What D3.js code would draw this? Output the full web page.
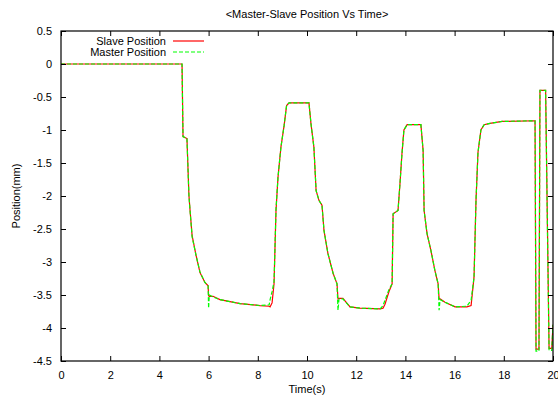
<!DOCTYPE html>
<html>
<head>
<meta charset="utf-8">
<script src="https://cdn.jsdelivr.net/npm/d3@7/dist/d3.min.js"></script>
<style>
  body { margin: 0; background: #fff; }
  text { font-family: "Liberation Sans", Arial, sans-serif; fill: #000; }
</style>
</head>
<body>
<div id="chart"></div>
<script>
// time (s)
const times = [0, 4.92, 4.96, 5.12, 5.20, 5.24, 5.33, 5.49, 5.65, 5.85, 5.98, 6.00, 6.03, 6.18, 6.46, 7.28,
  8.09, 8.46, 8.50, 8.58, 8.66, 8.74, 8.82, 8.94, 9.07, 9.17, 9.27, 10.08, 10.16, 10.28, 10.37, 10.49,
  10.61, 10.69, 10.85, 11.06, 11.22, 11.26, 11.30, 11.46, 11.75, 12.15, 12.97, 13.09, 13.17, 13.33,
  13.46, 13.50, 13.70, 13.78, 13.86, 13.94, 14.07, 14.63, 14.72, 14.76, 14.88, 15.04, 15.20, 15.33,
  15.37, 15.41, 15.61, 16.02, 16.50, 16.67, 16.79, 16.87, 16.95, 17.07, 17.20, 17.44, 17.93, 19.27,
  19.31, 19.43, 19.47, 19.70, 19.84, 19.95, 20.00];

// slave position (mm)
const slavePos = [0, 0, -1.10, -1.13, -1.99, -2.19, -2.60, -2.90, -3.16, -3.31, -3.36, -3.51, -3.52, -3.52, -3.57, -3.63,
  -3.66, -3.67, -3.68, -3.62, -3.33, -2.22, -1.72, -1.26, -0.93, -0.63, -0.59, -0.59, -0.90, -1.26, -1.92, -2.07,
  -2.14, -2.52, -2.87, -3.17, -3.33, -3.56, -3.55, -3.55, -3.68, -3.70, -3.71, -3.70, -3.64, -3.45,
  -3.33, -2.27, -2.22, -1.81, -1.36, -1.00, -0.92, -0.92, -1.31, -2.22, -2.57, -2.83, -3.13, -3.33,
  -3.56, -3.56, -3.61, -3.68, -3.68, -3.66, -3.23, -2.07, -1.34, -1.00, -0.92, -0.90, -0.87, -0.86,
  -4.32, -4.32, -0.40, -0.40, -4.31, -4.31, -3.95];

// master position (mm)
const masterPos = [0, 0, -1.10, -1.13, -1.99, -2.19, -2.62, -2.90, -3.15, -3.31, -3.36, -3.70, -3.50, -3.53, -3.57, -3.63,
  -3.66, -3.65, -3.57, -3.45, -3.30, -2.20, -1.72, -1.26, -0.93, -0.63, -0.59, -0.59, -0.90, -1.26, -1.92, -2.07,
  -2.14, -2.52, -2.87, -3.17, -3.33, -3.73, -3.56, -3.56, -3.68, -3.70, -3.71, -3.66, -3.58, -3.42,
  -3.33, -2.27, -2.22, -1.81, -1.36, -1.00, -0.92, -0.92, -1.31, -2.22, -2.57, -2.83, -3.13, -3.33,
  -3.73, -3.57, -3.61, -3.68, -3.67, -3.58, -3.23, -2.07, -1.34, -1.00, -0.92, -0.90, -0.87, -0.86,
  -4.35, -4.35, -0.40, -0.40, -4.34, -4.34, -3.95];

const xTicks = [0, 2, 4, 6, 8, 10, 12, 14, 16, 18, 20];
const yTicks = [0.5, 0, -0.5, -1, -1.5, -2, -2.5, -3, -3.5, -4, -4.5];
const seriesNames = ["Slave Position", "Master Position"];

const W = 558, H = 398;
const margin = { top: 31, right: 5, bottom: 37, left: 61 },
      width = W - margin.left - margin.right,
      height = H - margin.top - margin.bottom;

const svg = d3.select("#chart").append("svg")
  .attr("width", W)
  .attr("height", H);

const g = svg.append("g")
  .attr("transform", `translate(${margin.left},${margin.top})`);

const x = d3.scaleLinear().domain([0, 20]).range([0, width]);
const y = d3.scaleLinear().domain([-4.5, 0.5]).range([height, 0]);

// clip
svg.append("defs").append("clipPath").attr("id", "clip")
  .append("rect").attr("width", width).attr("height", height);

// lines
const slaveData = times.map((t, i) => [t, slavePos[i]]);
const masterData = times.map((t, i) => [t, masterPos[i]]);
const line = d3.line().x(d => x(d[0])).y(d => y(d[1]));

const plot = g.append("g").attr("clip-path", "url(#clip)");
plot.append("path").datum(slaveData)
  .attr("d", line)
  .attr("fill", "none")
  .attr("stroke", "#ff0000")
  .attr("stroke-width", 1.2);
plot.append("path").datum(masterData)
  .attr("d", line)
  .attr("fill", "none")
  .attr("stroke", "#00ff00")
  .attr("stroke-width", 1.2)
  .attr("stroke-dasharray", "4,2");

// axes, gnuplot style ticks pointing inward on all sides
function styleAxis(sel) {
  sel.select(".domain").remove();
  sel.selectAll(".tick line").attr("stroke", "#000").attr("stroke-width", 1);
  sel.selectAll(".tick text").style("font-size", "11px").style("font-family", "Liberation Sans, Arial, sans-serif");
}

g.append("g")
  .attr("transform", `translate(0,${height})`)
  .call(d3.axisBottom(x).tickValues(xTicks).tickFormat(d => String(d)).tickSizeInner(-5).tickPadding(10))
  .call(styleAxis);

g.append("g")
  .call(d3.axisTop(x).tickValues(xTicks).tickFormat("").tickSizeInner(-5))
  .call(styleAxis);

g.append("g")
  .call(d3.axisLeft(y).tickValues(yTicks).tickFormat(d => String(d)).tickSizeInner(-5).tickPadding(9))
  .call(styleAxis);

g.append("g")
  .attr("transform", `translate(${width},0)`)
  .call(d3.axisRight(y).tickValues(yTicks).tickFormat("").tickSizeInner(-5))
  .call(styleAxis);

// frame
g.append("rect")
  .attr("width", width)
  .attr("height", height)
  .attr("fill", "none")
  .attr("stroke", "#000")
  .attr("stroke-width", 1.2);

// title and axis labels
svg.append("text")
  .attr("x", margin.left + width / 2)
  .attr("y", 18)
  .attr("text-anchor", "middle")
  .style("font-size", "11px")
  .text("<Master-Slave Position Vs Time>");

svg.append("text")
  .attr("x", margin.left + width / 2)
  .attr("y", 393)
  .attr("text-anchor", "middle")
  .style("font-size", "11px")
  .text("Time(s)");

svg.append("text")
  .attr("transform", `translate(20,${margin.top + height / 2}) rotate(-90)`)
  .attr("text-anchor", "middle")
  .style("font-size", "11px")
  .text("Position(mm)");

// legend
const legend = svg.append("g");
const legendStyles = [
  { stroke: "#ff0000", dash: null },
  { stroke: "#00ff00", dash: "4,2" }
];
seriesNames.forEach((name, i) => {
  const ly = 41 + i * 11;
  legend.append("text")
    .attr("x", 166)
    .attr("y", ly + 4)
    .attr("text-anchor", "end")
    .style("font-size", "11px")
    .text(name);
  legend.append("line")
    .attr("x1", 173).attr("x2", 204)
    .attr("y1", ly).attr("y2", ly)
    .attr("stroke", legendStyles[i].stroke)
    .attr("stroke-width", 1.2)
    .attr("stroke-dasharray", legendStyles[i].dash);
});
</script>
</body>
</html>
